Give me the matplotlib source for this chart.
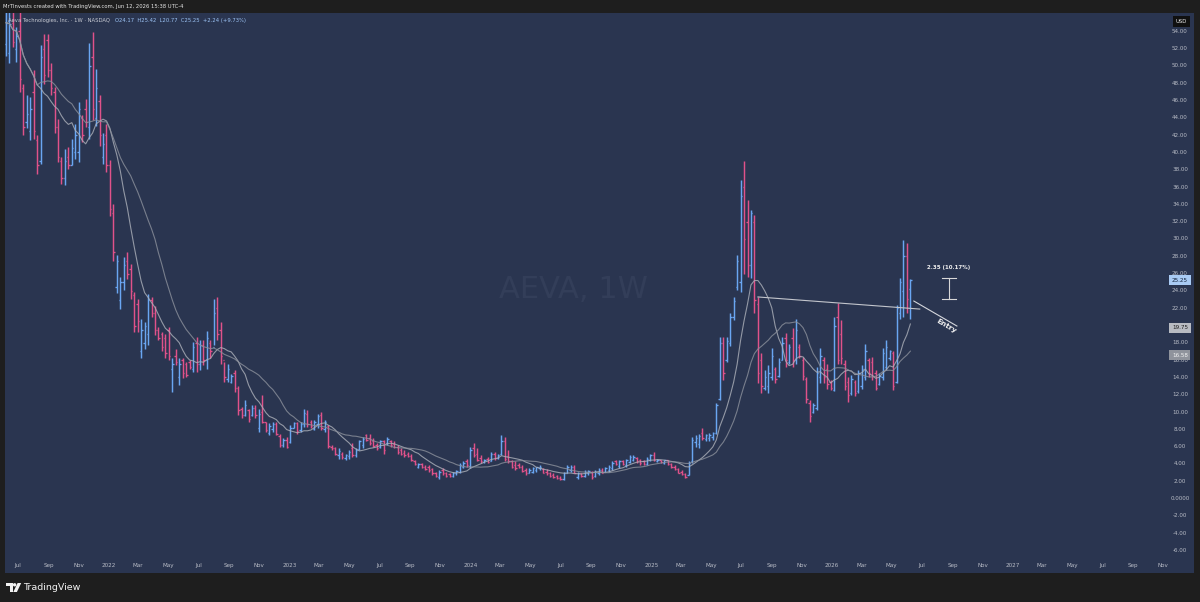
import matplotlib
matplotlib.use("Agg")
import matplotlib.pyplot as plt
import matplotlib.dates as mdates
from matplotlib.transforms import blended_transform_factory
from matplotlib.patches import Polygon, Circle
import pandas as pd

# ---------------- data (weekly OHLC, AEVA) ----------------
last_bar_date = "2026-06-08"

opens = [
    52.5, 51.5, 55.0, 52.0, 54.0, 47.5, 43.5, 42.5, 47.0, 41.5,
    39.0, 52.0, 53.0, 49.5, 47.0, 43.0, 39.0, 37.0, 39.5, 38.5,
    40.0, 40.0, 44.0, 45.0, 43.0, 51.0, 44.0, 46.0, 39.5, 42.0,
    38.5, 33.0, 24.5, 23.0, 25.0, 27.5, 26.5, 23.5, 22.5, 17.0,
    18.0, 19.0, 23.0, 21.5, 19.5, 19.0, 18.5, 19.5, 15.0, 16.5,
    14.0, 16.0, 15.5, 15.8, 15.0, 18.0, 15.5, 17.8, 16.0, 18.0,
    17.5, 22.0, 19.5, 16.0, 13.8, 13.5, 14.5, 12.8,
    10.3, 9.7, 10.2, 9.6, 10.5, 8.2, 10.0, 8.8, 7.6, 8.0,
    8.6, 7.2, 6.2, 6.8, 6.5, 8.2, 8.7, 7.9, 8.6, 9.8,
    8.8, 8.0, 8.6, 9.6, 8.0, 8.4, 6.0, 5.8, 5.0, 5.2,
    4.7, 4.9, 5.8, 5.0, 5.7, 6.2, 7.3, 7.0, 6.6, 6.2,
    5.9, 6.6, 6.4, 6.7, 6.3, 6.0, 5.6, 5.3, 5.1, 4.9,
    4.3, 3.7, 4.0, 3.7, 3.6, 3.4, 3.0, 2.5, 3.3, 2.9,
    2.8, 2.6, 2.9, 3.1, 3.7,
    4.3, 3.8, 5.8, 5.2, 4.7, 4.2, 4.6, 4.3, 5.2, 4.7,
    5.1, 6.6, 4.9, 4.3, 3.9, 3.9, 3.6, 3.3, 2.9, 3.1,
    3.3, 3.5, 3.4, 3.1, 3.0, 2.7, 2.6, 2.4, 2.2, 3.0,
    3.3, 3.7, 2.5, 2.9, 2.6, 2.9, 3.1, 2.6, 3.0, 3.3,
    3.1, 3.3, 3.5, 4.3, 3.8, 4.3, 3.9, 4.2, 4.5, 4.7,
    4.4, 4.3, 4.0, 4.5, 5.0, 4.3, 4.5, 4.1, 4.4, 4.0,
    3.7, 3.4, 3.1, 2.8, 2.7,
    4.3, 6.5, 6.3, 7.6, 6.9, 7.0, 7.1, 7.6, 11.5, 18.0,
    16.0, 18.0, 21.0, 24.5, 25.0, 36.0, 32.0, 27.0, 32.0, 22.5,
    16.0, 12.8, 13.0, 14.0, 15.0, 14.2, 16.0, 18.5, 15.8, 18.5,
    16.0, 17.5, 16.0, 13.8, 11.0, 10.0, 10.5, 14.0, 16.0, 15.0,
    13.5, 12.6, 21.0, 19.0, 15.5, 13.5, 12.2, 13.5, 12.4, 13.0,
    14.0, 16.0, 15.8, 14.5, 13.2, 14.0, 15.2, 16.2, 16.8, 13.5,
    21.5, 24.0, 28.0, 24.17,
]

highs = [
    57.5, 57.5, 57.5, 54.5, 57.5, 47.9, 46.6, 46.4, 49.5, 42.0,
    52.4, 53.7, 53.7, 50.3, 47.6, 43.9, 39.5, 40.4, 40.6, 41.6,
    43.3, 45.8, 44.3, 46.2, 52.6, 53.9, 49.7, 46.6, 42.2, 43.3,
    39.1, 34.1, 28.1, 25.6, 27.9, 28.5, 27.1, 23.9, 23.1, 20.8,
    20.4, 23.6, 23.3, 22.3, 19.8, 19.2, 19.0, 19.8, 16.2, 17.3,
    16.2, 16.3, 15.8, 16.0, 18.1, 18.7, 18.3, 18.3, 19.4, 18.3,
    23.1, 23.3, 20.4, 15.8, 15.6, 14.4, 14.8, 13.0,
    10.6, 11.4, 10.4, 10.8, 10.8, 10.4, 12.0, 8.9, 8.7, 8.9,
    8.9, 7.5, 7.0, 7.1, 8.5, 8.9, 8.9, 8.9, 10.4, 10.2,
    9.1, 9.1, 9.8, 10.0, 9.1, 8.5, 6.2, 6.0, 5.8, 5.4,
    5.2, 5.6, 6.4, 5.8, 6.8, 7.1, 7.5, 7.5, 7.0, 6.4,
    6.8, 6.8, 7.1, 6.8, 6.6, 6.2, 5.8, 5.6, 5.4, 5.2,
    4.4, 4.1, 4.1, 3.9, 3.9, 3.5, 3.1, 3.3, 3.5, 3.1,
    2.9, 3.1, 3.3, 4.1, 4.3,
    4.6, 6.0, 6.4, 5.8, 5.0, 4.6, 4.8, 5.4, 5.4, 5.2,
    7.3, 7.1, 5.6, 4.4, 4.3, 4.1, 3.9, 3.5, 3.5, 3.7,
    3.7, 3.9, 3.5, 3.4, 3.1, 2.9, 2.7, 2.6, 3.1, 3.9,
    3.9, 3.9, 3.1, 3.0, 3.3, 3.3, 3.2, 3.3, 3.5, 3.5,
    3.7, 3.9, 4.3, 4.5, 4.5, 4.5, 4.6, 5.0, 5.0, 4.8,
    4.6, 4.5, 4.8, 5.2, 5.4, 4.6, 4.5, 4.5, 4.5, 4.1,
    3.9, 3.5, 3.3, 2.9, 4.3,
    7.1, 7.3, 7.5, 8.1, 7.5, 7.6, 7.7, 11.0, 18.7, 18.7,
    18.7, 21.4, 23.3, 28.2, 36.8, 39.0, 34.5, 33.4, 32.8, 23.3,
    16.8, 14.9, 15.4, 17.4, 15.2, 16.2, 18.7, 19.1, 17.9, 19.7,
    20.8, 17.9, 16.4, 14.1, 11.4, 11.0, 15.2, 17.4, 16.4, 15.6,
    13.7, 21.0, 22.6, 20.6, 16.0, 14.1, 14.3, 13.7, 14.9, 15.4,
    17.9, 16.2, 16.4, 14.9, 14.5, 17.4, 18.3, 17.2, 17.0, 22.4,
    25.5, 29.9, 29.5, 25.42,
]

lows = [
    51.2, 50.3, 52.2, 50.5, 47.0, 42.0, 42.8, 41.4, 41.6, 37.5,
    38.7, 47.9, 48.7, 46.6, 42.2, 38.9, 36.4, 36.2, 38.1, 38.5,
    39.3, 38.9, 41.2, 42.9, 41.6, 43.7, 43.1, 40.8, 38.7, 37.7,
    32.7, 27.5, 23.7, 21.9, 24.1, 25.4, 23.1, 19.2, 19.2, 16.3,
    17.3, 17.7, 21.0, 18.9, 18.3, 17.1, 16.3, 16.0, 12.3, 15.4,
    13.1, 13.9, 14.0, 15.0, 14.6, 14.6, 14.8, 15.4, 15.0, 16.3,
    17.7, 18.3, 15.6, 13.5, 13.5, 13.3, 12.3, 9.7,
    9.3, 9.5, 8.9, 9.5, 9.3, 7.7, 8.7, 7.7, 7.3, 7.7,
    7.3, 6.0, 6.0, 5.8, 6.4, 8.1, 7.5, 7.7, 8.3, 8.3,
    8.1, 7.9, 8.1, 7.9, 7.7, 5.8, 5.6, 5.0, 4.6, 4.6,
    4.5, 4.6, 4.8, 4.8, 5.6, 5.8, 6.6, 6.2, 6.0, 5.6,
    5.8, 5.2, 6.2, 6.0, 5.8, 5.2, 5.0, 4.8, 4.8, 4.3,
    3.9, 3.5, 3.5, 3.3, 3.1, 2.7, 2.5, 2.3, 2.7, 2.5,
    2.5, 2.5, 2.7, 2.9, 3.5,
    3.7, 3.5, 4.8, 4.3, 4.1, 4.1, 4.1, 4.3, 4.5, 4.6,
    5.0, 4.3, 4.1, 3.5, 3.3, 3.5, 3.1, 2.7, 2.9, 2.9,
    3.1, 3.3, 2.9, 2.7, 2.5, 2.4, 2.3, 2.1, 2.1, 2.9,
    3.1, 2.9, 2.3, 2.5, 2.5, 2.7, 2.3, 2.5, 2.7, 2.9,
    3.1, 3.1, 3.3, 3.9, 3.5, 3.9, 3.7, 4.1, 4.3, 4.1,
    3.9, 3.9, 3.9, 4.3, 4.3, 4.2, 4.1, 4.0, 3.9, 3.5,
    3.3, 2.9, 2.7, 2.4, 2.7,
    4.1, 6.0, 5.8, 6.8, 6.6, 6.7, 6.8, 7.5, 11.4, 13.7,
    15.8, 17.6, 20.6, 24.1, 23.9, 26.0, 25.6, 25.5, 21.4, 13.3,
    12.2, 12.5, 12.2, 13.7, 13.3, 14.1, 16.0, 15.2, 15.6, 15.2,
    15.6, 16.2, 13.7, 11.0, 8.9, 9.9, 10.2, 13.3, 13.3, 12.7,
    12.5, 12.4, 15.6, 15.6, 12.5, 11.2, 12.0, 11.8, 12.2, 12.7,
    13.7, 14.1, 13.7, 12.5, 13.1, 13.7, 14.9, 16.0, 12.5, 13.3,
    20.8, 21.0, 21.4, 20.77,
]

closes = [
    55.0, 54.8, 52.8, 53.5, 48.5, 43.0, 44.5, 45.0, 42.5, 38.5,
    51.0, 49.0, 49.5, 47.5, 43.0, 39.5, 37.0, 39.0, 38.5, 40.5,
    42.0, 45.0, 42.0, 43.5, 50.0, 45.0, 47.5, 42.0, 41.0, 38.5,
    33.5, 28.5, 27.5, 25.0, 27.0, 26.0, 24.0, 20.0, 20.5, 19.5,
    20.0, 23.0, 21.5, 19.5, 18.5, 17.5, 16.8, 16.5, 15.5, 15.8,
    15.5, 14.5, 14.3, 15.2, 17.5, 15.5, 17.8, 16.0, 18.5, 17.0,
    21.5, 19.0, 16.5, 14.0, 15.0, 14.2, 12.8, 10.2,
    9.6, 10.8, 9.2, 10.5, 9.6, 9.8, 8.9, 7.9, 8.4, 8.6,
    7.5, 6.2, 6.8, 6.0, 8.2, 8.7, 7.8, 8.6, 9.9, 8.6,
    8.4, 8.9, 9.5, 8.2, 8.8, 6.1, 5.8, 5.2, 5.5, 4.8,
    5.0, 5.4, 5.0, 5.6, 6.6, 6.9, 6.8, 6.4, 6.1, 5.8,
    6.6, 5.6, 6.9, 6.2, 6.0, 5.4, 5.2, 5.0, 4.9, 4.5,
    4.0, 4.0, 3.6, 3.4, 3.3, 2.9, 2.6, 3.1, 2.9, 2.6,
    2.6, 3.0, 3.2, 3.9, 4.1,
    3.9, 5.6, 5.0, 4.5, 4.3, 4.5, 4.2, 5.1, 4.7, 5.0,
    6.6, 4.6, 4.3, 3.7, 3.5, 3.6, 3.2, 2.9, 3.3, 3.5,
    3.6, 3.7, 3.0, 2.9, 2.6, 2.5, 2.4, 2.2, 2.9, 3.6,
    3.7, 3.0, 2.9, 2.6, 3.1, 3.2, 2.5, 3.1, 3.3, 3.0,
    3.5, 3.7, 4.1, 4.0, 4.3, 4.0, 4.4, 4.8, 4.8, 4.3,
    4.1, 4.0, 4.6, 5.0, 4.5, 4.5, 4.2, 4.4, 4.0, 3.6,
    3.4, 3.0, 2.8, 2.5, 4.1,
    6.8, 7.0, 7.2, 7.0, 7.3, 7.4, 7.6, 10.8, 18.0, 14.5,
    18.2, 21.0, 22.8, 27.5, 35.0, 30.0, 27.0, 33.0, 23.0, 14.5,
    13.0, 14.0, 14.5, 16.5, 13.8, 15.8, 18.0, 16.0, 17.5, 16.0,
    19.5, 16.5, 14.2, 11.5, 9.5, 10.8, 14.5, 16.5, 14.0, 13.2,
    12.8, 20.0, 16.0, 16.2, 13.0, 12.0, 13.8, 12.2, 14.5, 15.0,
    17.0, 14.5, 14.2, 12.8, 14.2, 16.8, 17.5, 17.0, 13.0, 22.0,
    25.0, 28.0, 23.01, 25.25,
]

ma_fast_period = 10
ma_slow_period = 20
ma_fast_last_label = "19.75"
ma_slow_last_label = "16.58"
ma_fast_last = 19.75
ma_slow_last = 16.58
last_close = 25.25

y_tick_values = [54, 52, 50, 48, 46, 44, 42, 40, 38, 36, 34, 32, 30, 28, 26, 24,
                 22, 20, 18, 16, 14, 12, 10, 8, 6, 4, 2, 0, -2, -4, -6]
y_tick_labels = ["54.00", "52.00", "50.00", "48.00", "46.00", "44.00", "42.00",
                 "40.00", "38.00", "36.00", "34.00", "32.00", "30.00", "28.00",
                 "26.00", "24.00", "22.00", "20.00", "18.00", "16.00", "14.00",
                 "12.00", "10.00", "8.00", "6.00", "4.00", "2.00", "0.0000",
                 "-2.00", "-4.00", "-6.00"]

x_tick_dates = ["2021-07-01", "2021-09-01", "2021-11-01",
                "2022-01-01", "2022-03-01", "2022-05-01", "2022-07-01", "2022-09-01", "2022-11-01",
                "2023-01-01", "2023-03-01", "2023-05-01", "2023-07-01", "2023-09-01", "2023-11-01",
                "2024-01-01", "2024-03-01", "2024-05-01", "2024-07-01", "2024-09-01", "2024-11-01",
                "2025-01-01", "2025-03-01", "2025-05-01", "2025-07-01", "2025-09-01", "2025-11-01",
                "2026-01-01", "2026-03-01", "2026-05-01", "2026-07-01", "2026-09-01", "2026-11-01",
                "2027-01-01", "2027-03-01", "2027-05-01", "2027-07-01", "2027-09-01", "2027-11-01"]
x_tick_labels = ["Jul", "Sep", "Nov",
                 "2022", "Mar", "May", "Jul", "Sep", "Nov",
                 "2023", "Mar", "May", "Jul", "Sep", "Nov",
                 "2024", "Mar", "May", "Jul", "Sep", "Nov",
                 "2025", "Mar", "May", "Jul", "Sep", "Nov",
                 "2026", "Mar", "May", "Jul", "Sep", "Nov",
                 "2027", "Mar", "May", "Jul", "Sep", "Nov"]

# drawings (date, price)
trend_start = ("2025-08-04", 23.3)
trend_end = ("2026-06-27", 21.9)
entry_start = ("2026-06-15", 22.83)
entry_end = ("2026-09-10", 19.94)
entry_label_pos = ("2026-08-20", 19.95)
measure_date = "2026-08-25"
measure_low = 23.11
measure_high = 25.46
measure_text = "2.35 (10.17%)"

legend_name = "Aeva Technologies, Inc. \u00b7 1W \u00b7 NASDAQ"
legend_values = "O24.17  H25.42  L20.77  C25.25  +2.24 (+9.73%)"
header_text = "MrTInvests created with TradingView.com, Jun 12, 2026 15:38 UTC-4"
watermark = "AEVA, 1W"

# ---------------- style ----------------
FRAME = "#1e1e1e"
PANE = "#2a3550"
UP = "#6aa6f2"
DOWN = "#e0528a"
TXT = "#b8bcc6"
plt.rcParams["font.family"] = ["DejaVu Sans"]

fig = plt.figure(figsize=(12, 6.02), dpi=100, facecolor=FRAME)
ax = fig.add_axes([5 / 1200, 1 - 573 / 602, 1189 / 1200, (573 - 12.7) / 602])
ax.set_facecolor(PANE)
for s in ax.spines.values():
    s.set_visible(False)
ax.set_xticks([])
ax.set_yticks([])
ax.set_xlim(mdates.date2num(pd.Timestamp("2021-06-05")), mdates.date2num(pd.Timestamp("2028-01-02")))
ax.set_ylim(-8.61, 56.16)

dates = pd.date_range(end=last_bar_date, periods=len(closes), freq="7D")
xs = mdates.date2num(dates)
cols = [UP if c >= o else DOWN for o, c in zip(opens, closes)]

ax.text(0.4777, 0.5051, watermark, transform=ax.transAxes, ha="center", va="center",
        fontsize=22, color="#333e59", zorder=0)

tick_w = 2.8
ax.vlines(xs, lows, highs, colors=cols, lw=1.05, zorder=2)
ax.hlines(opens, xs - tick_w, xs, colors=cols, lw=0.95, zorder=2)
ax.hlines(closes, xs, xs + tick_w, colors=cols, lw=0.95, zorder=2)

cs = pd.Series(closes)
ma_fast = cs.rolling(ma_fast_period, min_periods=1).mean()
ma_slow = cs.rolling(ma_slow_period, min_periods=1).mean()
ax.plot(xs, ma_fast, color="#aeb2bb", lw=0.8, alpha=0.8, zorder=3)
ax.plot(xs, ma_slow, color="#8c919c", lw=0.8, alpha=0.8, zorder=3)


def dn(d):
    return mdates.date2num(pd.Timestamp(d))


# drawings
ax.plot([dn(trend_start[0]), dn(trend_end[0])], [trend_start[1], trend_end[1]],
        color="#c3c6cd", lw=0.8, zorder=4)
ax.plot([dn(entry_start[0]), dn(entry_end[0])], [entry_start[1], entry_end[1]],
        color="#d4d6dc", lw=0.8, zorder=4)
ax.text(dn(entry_label_pos[0]), entry_label_pos[1], "Entry", rotation=-31,
        rotation_mode="anchor", ha="center", va="center", fontsize=5.2, color="#f2f2f2",
        fontweight="bold", zorder=5)
mx = dn(measure_date)
ax.plot([mx, mx], [measure_low, measure_high], color="#d8d8d8", lw=0.8, zorder=4)
ax.plot([mx - 14, mx + 14], [measure_low, measure_low], color="#d8d8d8", lw=0.8, zorder=4)
ax.plot([mx - 14, mx + 14], [measure_high, measure_high], color="#d8d8d8", lw=0.8, zorder=4)
ax.text(mx, measure_high + 1.3, measure_text, ha="center", va="center", fontsize=4.0,
        color="#f0f0f0", fontweight="bold", zorder=5)

# price scale labels
ytr = blended_transform_factory(ax.transAxes, ax.transData)
for v, lab in zip(y_tick_values, y_tick_labels):
    ax.text(0.9882, v, lab, transform=ytr, ha="center", va="center", fontsize=4.1, color=TXT, zorder=5)

ax.text(0.9882, last_close, f"{last_close:.2f}", transform=ytr, ha="center", va="center",
        fontsize=4.1, color="#10203a", zorder=6,
        bbox=dict(boxstyle="square,pad=0.45", fc="#a9cbf4", ec="none"))
ax.text(0.9882, ma_fast_last, ma_fast_last_label, transform=ytr, ha="center", va="center",
        fontsize=4.1, color="#1a1a1a", zorder=6,
        bbox=dict(boxstyle="square,pad=0.45", fc="#b8bbc2", ec="none"))
ax.text(0.9882, ma_slow_last, ma_slow_last_label, transform=ytr, ha="center", va="center",
        fontsize=4.1, color="#f4f4f4", zorder=6,
        bbox=dict(boxstyle="square,pad=0.45", fc="#8f939c", ec="none"))

# time scale labels
xtr = blended_transform_factory(ax.transData, ax.transAxes)
for d, lab in zip(x_tick_dates, x_tick_labels):
    ax.text(dn(d), 0.0125, lab, transform=xtr, ha="center", va="center", fontsize=4.1, color=TXT, zorder=5)

# ---------------- overlay in figure pixels (frame decorations) ----------------
ov = fig.add_axes([0, 0, 1, 1], zorder=10)
ov.set_xlim(0, 1200)
ov.set_ylim(602, 0)
ov.axis("off")
ov.patch.set_alpha(0)

ov.text(3, 6.5, header_text, ha="left", va="center", fontsize=3.8, color="#e6e6e6")
ov.text(8, 20.7, legend_name, ha="left", va="center", fontsize=3.8, color="#c9ccd4")
ov.text(115, 20.7, legend_values, ha="left", va="center", fontsize=3.8, color="#9cc3f5")
ov.text(1181.5, 21.5, "USD", ha="center", va="center", fontsize=3.8, color="#f0f0f0",
        bbox=dict(boxstyle="square,pad=0.55", fc="#101010", ec="none"))

# TradingView logo
ov.add_patch(Polygon([(6, 583), (12.6, 583), (12.6, 592), (9.6, 592), (9.6, 586.4), (6, 586.4)],
                     closed=True, fc="#f2f2f2", ec="none"))
ov.add_patch(Circle((14.6, 584.8), 1.7, fc="#f2f2f2", ec="none"))
ov.add_patch(Polygon([(17.6, 583), (21.2, 583), (16.9, 592), (13.3, 592)],
                     closed=True, fc="#f2f2f2", ec="none"))
ov.text(23, 587.5, "TradingView", ha="left", va="center", fontsize=6.8, color="#f2f2f2")

fig.savefig("out.png", dpi=100, facecolor=FRAME)
